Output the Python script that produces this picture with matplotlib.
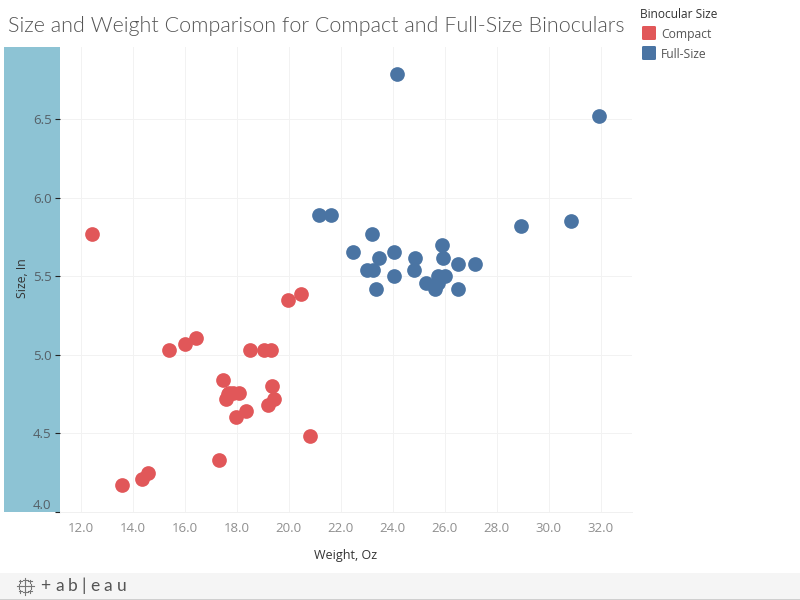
import matplotlib
matplotlib.use("Agg")
import matplotlib.pyplot as plt
from matplotlib.patches import Rectangle, FancyBboxPatch
from matplotlib.lines import Line2D

compact_x = [12.44, 13.6, 14.37, 14.6, 15.4, 16.0, 16.44, 17.33, 17.48, 17.6, 17.67, 17.7, 17.87, 17.97, 18.1,
             18.37, 18.5, 19.05, 19.33, 19.2, 19.37, 19.45, 19.97, 20.48, 20.83]
compact_y = [5.77, 4.17, 4.21, 4.25, 5.03, 5.07, 5.11, 4.33, 4.84, 4.72, 4.75, 4.76, 4.76, 4.605, 4.76,
             4.645, 5.03, 5.03, 5.03, 4.68, 4.8, 4.72, 5.35, 5.385, 4.485]
full_x = [24.17, 31.94, 21.17, 21.63, 22.48, 23.02, 23.2, 23.25, 23.48, 23.37, 24.06, 24.06, 24.87,
          24.83, 25.29, 25.63, 25.75, 25.75, 26.02, 25.9, 25.94, 26.52, 26.52, 27.17, 28.94, 30.87]
full_y = [6.79, 6.52, 5.89, 5.89, 5.655, 5.54, 5.77, 5.54, 5.62, 5.42, 5.655, 5.505, 5.62,
          5.54, 5.46, 5.42, 5.46, 5.505, 5.505, 5.7, 5.62, 5.58, 5.42, 5.58, 5.82, 5.855]
x_ticks = [12, 14, 16, 18, 20, 22, 24, 26, 28, 30, 32]
y_ticks = [4.0, 4.5, 5.0, 5.5, 6.0, 6.5]

RED = "#E15759"
BLUE = "#4A74A3"
FONT = "Open Sans"
W, H = 800, 600

fig = plt.figure(figsize=(8, 6), dpi=100, facecolor="white")
ax = fig.add_axes([60 / W, 1 - 512 / H, 572 / W, 465 / H])
ax.set_xlim(11.21, 33.21)
ax.set_ylim(4.0, 6.96)
for s in ax.spines.values():
    s.set_visible(False)
ax.spines["bottom"].set_visible(True)
ax.spines["bottom"].set_color("#f0f0f0")
ax.spines["bottom"].set_linewidth(0.72)
ax.grid(True, color="#f2f2f2", lw=0.72)
ax.set_axisbelow(True)

ax.scatter(compact_x, compact_y, s=112, color=RED, linewidths=0, clip_on=False, zorder=3)
ax.scatter(full_x, full_y, s=112, color=BLUE, linewidths=0, clip_on=False, zorder=3)

ax.set_xticks(x_ticks, [f"{v:.1f}" for v in x_ticks], fontname=FONT, fontsize=9.5, color="#8f8f8f")
ax.set_yticks(y_ticks, [f"{v:.1f}" for v in y_ticks], fontname=FONT, fontsize=9.5, color="#555f66")
ax.get_yticklabels()[0].set_verticalalignment("bottom")
ax.tick_params(axis="x", length=0, pad=7)
ax.tick_params(axis="y", length=3.6, width=0.8, color="#222222", pad=2.5)
ax.set_xlabel("Weight, Oz", fontname=FONT, fontsize=9, color="#333333", labelpad=10)

fig.add_artist(Rectangle((4 / W, 1 - 512 / H), 56 / W, 465 / H, transform=fig.transFigure,
                         facecolor="#8DC3D4", edgecolor="none", zorder=0))
fig.text(22 / W, 1 - 278 / H, "Size, In", rotation=90, ha="center", va="center",
         fontname=FONT, fontsize=8.8, color="#333333")

fig.text(8 / W, 1 - 26 / H, "Size and Weight Comparison for Compact and Full-Size Binoculars",
         fontname="Lato", fontweight=300, fontsize=15.5, color="#555555", ha="left", va="center")

fig.text(640 / W, 1 - 18 / H, "Binocular Size", fontname=FONT, fontsize=8.6, color="#333333", va="baseline")
for yy, label, col in [(33, "Compact", RED), (53, "Full-Size", BLUE)]:
    fig.add_artist(FancyBboxPatch((642 / W, 1 - (yy + 7) / H), 14 / W, 14 / H,
                                  boxstyle="round,pad=0,rounding_size=0.002", transform=fig.transFigure,
                                  facecolor=col, edgecolor="none"))
    fig.text(661 / W, 1 - (yy + 5) / H, label, fontname=FONT, fontsize=8.7, color="#555555", va="baseline")

fig.add_artist(Rectangle((0, 1 - 599 / H), 1, 26 / H, transform=fig.transFigure,
                         facecolor="#f5f5f5", edgecolor="none"))
fig.add_artist(Rectangle((0, 0), 1, 1 / H, transform=fig.transFigure,
                         facecolor="#cfcfcf", edgecolor="none"))
# logo glyph: small crosses
for px, py, r in [(25, 586, 4), (19, 586, 2.5), (31, 586, 2.5), (25, 580, 2.5), (25, 592, 2.5),
                  (20, 581, 1.5), (30, 581, 1.5), (20, 591, 1.5), (30, 591, 1.5)]:
    for dx, dy in [(r, 0), (0, r)]:
        fig.add_artist(Line2D([(px - dx) / W, (px + dx) / W], [1 - (py - dy) / H, 1 - (py + dy) / H],
                              transform=fig.transFigure, color="#777777", lw=0.8))
for px, ch in [(45, "+"), (59.5, "a"), (73, "b"), (84, "|"), (95, "e"), (108, "a"), (122, "u")]:
    fig.text(px / W, 1 - 586 / H, ch, fontname="Lato", fontsize=12.5, color="#555555",
             ha="center", va="center")

fig.savefig("out.png", dpi=100)
